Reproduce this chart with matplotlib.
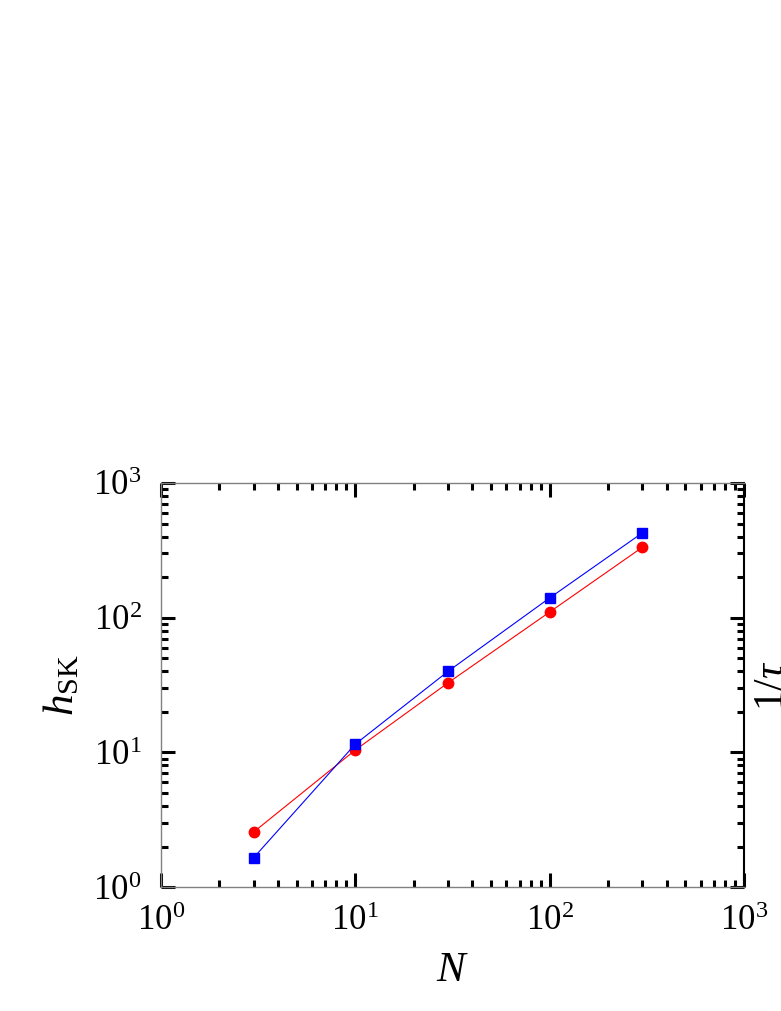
import matplotlib
matplotlib.use('Agg')
import matplotlib.pyplot as plt
from matplotlib.ticker import LogLocator, NullFormatter

plt.rcParams['font.family'] = ['Liberation Serif', 'DejaVu Serif']
plt.rcParams['mathtext.fontset'] = 'custom'
plt.rcParams['mathtext.rm'] = 'Liberation Serif'
plt.rcParams['mathtext.it'] = 'Liberation Serif:italic'
plt.rcParams['mathtext.bf'] = 'Liberation Serif:bold'

# data
N = [3, 10, 30, 100, 300]
h_red = [2.56, 10.4, 32.8, 110, 333]
h_blue = [1.65, 11.5, 39.9, 140, 426]

fig = plt.figure(figsize=(7.81, 10.11), dpi=100)
ax = fig.add_axes([0.206, 0.1226, 0.7466, 0.3997])

ax.plot(N, h_red, color='#ff0000', lw=0.8, marker='o', ms=7.5, mec='#ff0000')
ax.plot(N, h_blue, color='#0000ff', lw=0.8, marker='s', ms=7.5, mec='#0000ff')

ax.set_xscale('log')
ax.set_yscale('log')
ax.set_xlim(1, 1000)
ax.set_ylim(1, 1000)

for a in (ax.xaxis, ax.yaxis):
    a.set_major_locator(LogLocator(base=10, numticks=10))
    a.set_minor_locator(LogLocator(base=10, subs=range(2, 10), numticks=10))
    a.set_minor_formatter(NullFormatter())

ax.tick_params(which='both', direction='in', top=True, right=True, color='black')
ax.tick_params(which='major', length=10, width=2.2, labelsize=25)
ax.tick_params(axis='x', which='major', pad=13)
ax.tick_params(axis='y', which='major', pad=14)
ax.tick_params(which='minor', length=5, width=2.2)

for s in ('left', 'bottom', 'top'):
    ax.spines[s].set_color('#808080')
    ax.spines[s].set_linewidth(1.0)
ax.spines['right'].set_color('black')
ax.spines['right'].set_linewidth(1.5)

ax.set_xlabel(r'$N$', fontsize=31, labelpad=10)
ax.set_ylabel(r'$h_{\mathrm{SK}}$', fontsize=31, labelpad=8)

# label of the neighbouring panel, cut by the figure edge
fig.text(0.99, 0.322, r'$1/\tau$', fontsize=30, rotation=90, ha='center', va='center')

fig.savefig('out.png', dpi=100)
